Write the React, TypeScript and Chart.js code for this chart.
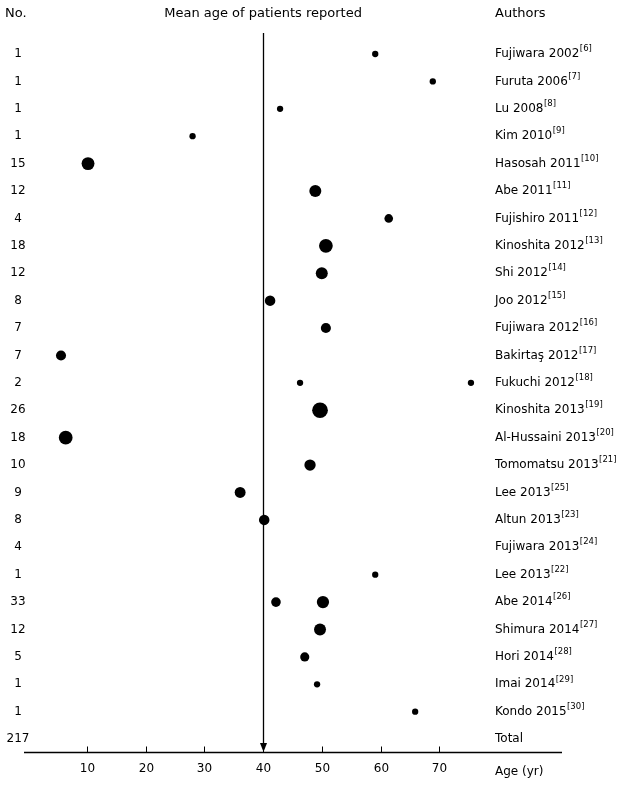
import { useEffect, useRef } from "react";
import { Chart, registerables } from "chart.js";

Chart.register(...registerables);

// ---- data ----
const patientCounts = ["1", "1", "1", "1", "15", "12", "4", "18", "12", "8", "7", "7", "2", "26", "18", "10", "9", "8", "4", "1", "33", "12", "5", "1", "1", "217"];
const authors = ["Fujiwara 2002", "Furuta 2006", "Lu 2008", "Kim 2010", "Hasosah 2011", "Abe 2011", "Fujishiro 2011", "Kinoshita 2012", "Shi 2012", "Joo 2012", "Fujiwara 2012", "Bakirtaş 2012", "Fukuchi 2012", "Kinoshita 2013", "Al-Hussaini 2013", "Tomomatsu 2013", "Lee 2013", "Altun 2013", "Fujiwara 2013", "Lee 2013", "Abe 2014", "Shimura 2014", "Hori 2014", "Imai 2014", "Kondo 2015", "Total"];
const refs = ["6", "7", "8", "9", "10", "11", "12", "13", "14", "15", "16", "17", "18", "19", "20", "21", "25", "23", "24", "22", "26", "27", "28", "29", "30", ""];
// dots: row index, mean age (yr), patients represented by the dot
const dotRows = [0, 1, 2, 3, 4, 5, 6, 7, 8, 9, 10, 11, 12, 12, 13, 14, 15, 16, 17, 19, 20, 20, 21, 22, 23, 24];
const dotAges = [59.1, 68.9, 42.9, 28.0, 10.2, 48.9, 61.4, 50.7, 50.0, 41.2, 50.7, 5.6, 46.3, 75.4, 49.7, 6.4, 48.0, 36.1, 40.2, 59.1, 42.2, 50.2, 49.7, 47.1, 49.2, 65.9];
const dotWeights = [1, 1, 1, 1, 15, 12, 4, 18, 12, 8, 7, 7, 1, 1, 26, 18, 10, 9, 8, 1, 6, 13, 12, 5, 1, 1];
const xTicks = [10, 20, 30, 40, 50, 60, 70];
const referenceAge = 40;
const headerNo = "No.";
const headerMean = "Mean age of patients reported";
const headerAuthors = "Authors";
const xTitle = "Age (yr)";

const FONT = "'DejaVu Sans', Verdana, sans-serif";

function dotRadius(w: number) {
  return 2 + 1.15 * Math.sqrt(w);
}

export default function App() {
  const ref = useRef<HTMLCanvasElement | null>(null);

  useEffect(() => {
    document.body.style.margin = "0";
    const canvas = ref.current;
    if (!canvas) return;

    const overlay = {
      id: "overlay",
      beforeDatasetsDraw(chart: any) {
        const { ctx, chartArea, scales } = chart;
        const x = scales.x;
        const px = Math.round(x.getPixelForValue(referenceAge)) + 0.5;
        ctx.save();
        ctx.strokeStyle = "#000";
        ctx.fillStyle = "#000";
        ctx.lineWidth = 1.3;
        ctx.beginPath();
        ctx.moveTo(px, chartArea.top);
        ctx.lineTo(px, chartArea.bottom - 6);
        ctx.stroke();
        ctx.beginPath();
        ctx.moveTo(px - 3.5, chartArea.bottom - 9);
        ctx.lineTo(px + 3.5, chartArea.bottom - 9);
        ctx.lineTo(px, chartArea.bottom);
        ctx.closePath();
        ctx.fill();
        ctx.restore();
      },
      afterDraw(chart: any) {
        const { ctx, chartArea, scales } = chart;
        const x = scales.x;
        const y = scales.y;
        ctx.save();
        ctx.fillStyle = "#000";
        ctx.strokeStyle = "#000";
        // x axis
        const ay = chartArea.bottom + 0.5;
        ctx.lineWidth = 1.3;
        ctx.beginPath();
        ctx.moveTo(chartArea.left, ay);
        ctx.lineTo(chartArea.right, ay);
        ctx.stroke();
        ctx.lineWidth = 1;
        ctx.font = `12px ${FONT}`;
        ctx.textAlign = "center";
        ctx.textBaseline = "middle";
        for (const t of xTicks) {
          const tx = Math.round(x.getPixelForValue(t)) + 0.5;
          ctx.beginPath();
          ctx.moveTo(tx, ay);
          ctx.lineTo(tx, ay - 6);
          ctx.stroke();
          ctx.fillText(String(t), tx, chartArea.bottom + 17);
        }
        ctx.textAlign = "left";
        ctx.fillText(xTitle, 495, chartArea.bottom + 20);

        // headers
        ctx.font = `13px ${FONT}`;
        ctx.textAlign = "left";
        ctx.fillText(headerNo, 5, 14);
        ctx.fillText(headerAuthors, 495, 14);
        ctx.textAlign = "center";
        ctx.fillText(headerMean, x.getPixelForValue(referenceAge), 14);

        // rows
        authors.forEach((a, i) => {
          const ry = y.getPixelForValue(i);
          ctx.font = `12px ${FONT}`;
          ctx.textAlign = "center";
          ctx.textBaseline = "middle";
          ctx.fillText(patientCounts[i], 18, ry);
          ctx.textAlign = "left";
          ctx.fillText(a, 495, ry);
          if (refs[i]) {
            const w = ctx.measureText(a).width;
            ctx.font = `8.5px ${FONT}`;
            ctx.fillText(`[${refs[i]}]`, 495 + w + 0.5, ry - 5);
          }
        });
        ctx.restore();
      },
    };

    const chart = new Chart(canvas, {
      type: "scatter",
      data: {
        datasets: [
          {
            data: dotAges.map((a, i) => ({ x: a, y: dotRows[i] })),
            backgroundColor: "#000",
            borderColor: "#000",
            borderWidth: 0,
            pointRadius: (c: any) => dotRadius(dotWeights[c.dataIndex] ?? 1),
          },
        ],
      },
      options: {
        responsive: false,
        animation: false,
        events: [],
        layout: { padding: { left: 24, right: 71, top: 33, bottom: 36 } },
        scales: {
          x: { type: "linear", min: -0.7, max: 90.9, display: false },
          y: { type: "linear", min: -0.766, max: 25.47, reverse: true, display: false },
        },
        plugins: { legend: { display: false }, tooltip: { enabled: false } },
      },
      plugins: [overlay],
    } as any);

    return () => chart.destroy();
  }, []);

  return (
    <div style={{ width: 633, height: 788 }}>
      <canvas ref={ref} width={633} height={788} style={{ display: "block" }} />
    </div>
  );
}
